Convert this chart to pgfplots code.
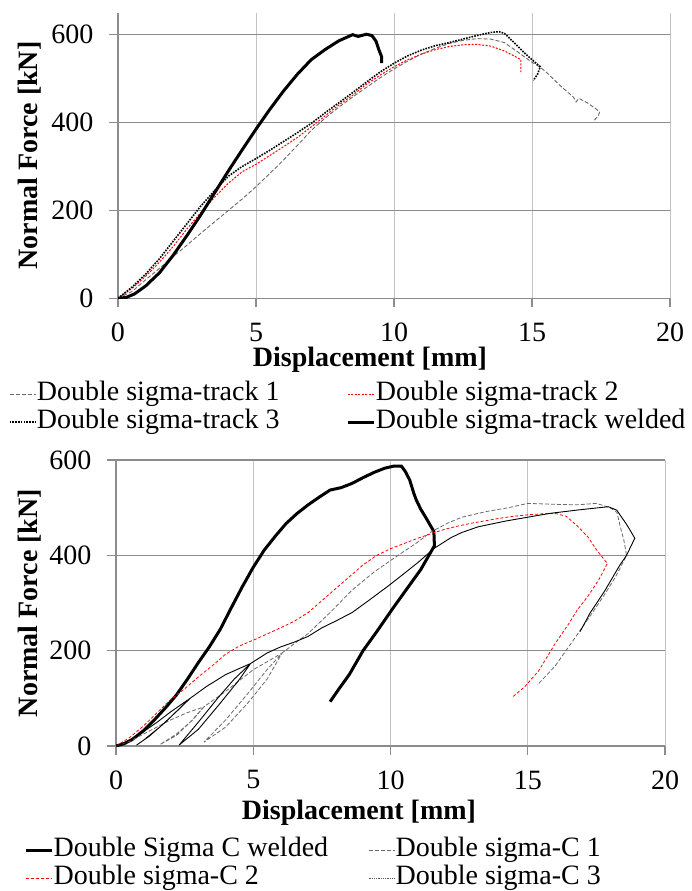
\documentclass[border=0pt]{standalone}
\usepackage{fontspec}
\setmainfont{Liberation Serif}
\usepackage{pgfplots}
\pgfplotsset{compat=1.18}

\definecolor{gridh}{RGB}{140,140,140}
\definecolor{gridv}{RGB}{195,195,195}
\definecolor{axgray}{RGB}{140,140,140}
\definecolor{cgrey}{RGB}{105,105,105}

\newcommand{\bigfont}{\fontsize{28}{30}\selectfont}

\pgfplotsset{
  panel/.style={
    scale only axis,
    xmin=0, xmax=20, ymin=0,
    xtick={0,5,10,15,20},
    ytick={0,200,400,600},
    axis lines*=left,
    axis line style={axgray, line width=1.3pt, -},
    grid=major,
    x grid style={gridv, line width=1pt},
    y grid style={gridh, line width=1.2pt},
    tick style={axgray, line width=1.2pt},
    tick align=outside,
    major tick length=9pt,
    /pgf/number format/assume math mode=true,
    tick label style={font=\bigfont},
    xticklabel style={yshift=-12pt},
    yticklabel style={xshift=-12pt},
    xlabel={Displacement [mm]},
    ylabel={Normal Force [kN]},
    legend columns=2,
    legend image code/.code={\draw[##1] (0pt,0pt) -- (26.5pt,0pt);},
    legend cell align=left,
    legend style={draw=none, fill=none, inner sep=0pt, outer sep=0pt,
      font=\bigfont, row sep=0pt,
      nodes={inner sep=0pt, text height=20pt, text depth=8pt},
      anchor=north west},
  },
}

\begin{document}
\begin{tikzpicture}
\useasboundingbox (0pt,0pt) rectangle (691pt,-891pt);

% ---------------------------------------------------------------- top panel
\begin{axis}[panel,
  at={(118pt,-298.3pt)}, anchor=south west,
  width=552pt, height=285.6pt, ymax=650,
  every axis y label/.style={at={(rel axis cs:0,0.5)}, rotate=90, anchor=center,
    yshift=88pt, font=\bigfont\bfseries},
  every axis x label/.style={at={(rel axis cs:0,0)}, anchor=center,
    xshift=252pt, yshift=-61.7pt, font=\bigfont\bfseries},
  legend style={at={(axis description cs:0,0)}, xshift=-109.2pt, yshift=-81.7pt,
    /tikz/every odd column/.append style={column sep=0pt},
    /tikz/every even column/.append style={column sep=67pt}},
]
\addplot[cgrey, line width=0.9pt, dash pattern=on 4pt off 2pt] coordinates {
(0,0) (0.5,15) (1,42) (1.5,68) (2,95) (2.5,121) (3,148) (3.5,174) (4,200)
(4.5,226) (5,254) (5.5,284) (6,315) (6.5,348) (7,382) (7.5,410) (8,435)
(8.5,458) (9,480) (9.5,502) (10,522) (10.5,540) (11,556) (11.5,569) (12,580)
(12.5,587) (13,591) (13.5,590) (14,582) (14.5,560) (15,537) (15.3,526)
(15.6,510) (16,485) (16.5,458) (16.6,447) (16.7,455) (17,445) (17.3,432)
(17.45,424) (17.4,415) (17.25,405)};
\addlegendentry{Double sigma-track 1}
\addplot[red, line width=1pt, dash pattern=on 2pt off 1.5pt] coordinates {
(0,0) (0.5,22) (1,50) (1.5,82) (2,118) (2.5,158) (3,195) (3.5,230) (4,262)
(4.5,288) (5,305) (5.5,325) (6,345) (6.5,366) (7,390) (7.5,415) (8,440)
(8.5,462) (9,487) (9.5,508) (10,527) (10.5,543) (11,556) (11.5,566) (12,573)
(12.5,577) (13,578) (13.5,574) (14,563) (14.4,550) (14.6,543) (14.6,515)};
\addlegendentry{Double sigma-track 2}
\addplot[black, line width=1.6pt, dash pattern=on 1.6pt off 1.2pt] coordinates {
(0,0) (0.5,25) (1,55) (1.5,90) (2,130) (2.5,170) (3,210) (3.5,245) (4,278)
(4.5,300) (5,318) (5.5,337) (6,357) (6.5,377) (7,398) (7.5,422) (8,445)
(8.5,468) (9,492) (9.5,515) (10,535) (10.5,552) (11,565) (11.5,575) (12,582)
(12.5,590) (13,598) (13.5,605) (13.8,607) (14,603) (14.3,585) (14.7,560)
(15,543) (15.3,527) (15.2,510) (15.05,496)};
\addlegendentry{Double sigma-track 3}
\addplot[black, line width=3pt] coordinates {
(0,0) (0.3,2) (0.6,10) (1,28) (1.5,58) (2,98) (2.5,143) (3,190) (3.5,240)
(4,290) (4.5,338) (5,385) (5.5,430) (6,472) (6.5,510) (7,543) (7.5,566)
(8,586) (8.5,600) (8.7,596) (9,601) (9.2,598) (9.35,585) (9.45,566)
(9.55,550) (9.55,535)};
\addlegendentry{Double sigma-track welded}
\end{axis}

% ------------------------------------------------------------- bottom panel
\begin{axis}[panel,
  at={(116pt,-746pt)}, anchor=south west,
  width=549pt, height=286pt, ymax=600,
  every axis y label/.style={at={(rel axis cs:0,0.5)}, rotate=90, anchor=center,
    yshift=86pt, font=\bigfont\bfseries},
  every axis x label/.style={at={(rel axis cs:0,0)}, anchor=center,
    xshift=243pt, yshift=-67pt, font=\bigfont\bfseries},
  legend style={at={(axis description cs:0,0)}, xshift=-91.8pt, yshift=-90pt,
    /tikz/every odd column/.append style={column sep=0pt},
    /tikz/every even column/.append style={column sep=40pt}},
]
\addplot[black, line width=3pt] coordinates {
(0,0) (0.3,5) (0.6,14) (1,32) (1.4,55) (1.8,80) (2.2,107) (2.6,140) (3,175)
(3.4,208) (3.8,245) (4.2,290) (4.6,334) (5,375) (5.4,411) (5.8,440)
(6.2,467) (6.6,488) (7,506) (7.4,522) (7.8,537) (8.2,542) (8.6,551) (9,563)
(9.4,574) (9.8,583) (10.1,587) (10.4,587) (10.55,575) (10.7,558)
(10.85,530) (10.94,516) (11.1,497) (11.3,478) (11.58,450) (11.6,420)
(11.1,370) (10.6,330) (10.1,290) (9.5,240) (9,200) (8.5,150) (8.1,118)
(7.8,93)};
\addlegendentry{Double Sigma C welded}
\addplot[cgrey, line width=0.8pt, dash pattern=on 4pt off 2pt] coordinates {
(0,0) (0.5,10) (1,25) (1.5,40) (2,55) (2.6,70) (3.2,82) (2.7,50) (2.2,22)
(1.6,3) (2.2,25) (2.8,55) (3.2,82) (4,115) (5,160) (6.05,195) (5.5,140)
(4.8,90) (4,40) (3.2,8) (4,55) (4.8,110) (5.5,160) (6.05,195) (6.5,215)
(7,236) (7.8,280) (8.6,327) (9.4,365) (10.2,397) (11,428) (11.5,450)
(12.1,468) (12.6,480) (13.5,492) (14.3,500) (15,509) (16,507) (16.8,506)
(17.5,509) (18,500) (18.25,490) (18.35,465) (18.5,432) (18.6,400)
(18.2,355) (17.8,318) (17.3,275) (16.66,222) (16,168) (15.35,128)};
\addlegendentry{Double sigma-C 1}
\addplot[red, line width=0.8pt, dash pattern=on 3pt off 2pt] coordinates {
(0,0) (0.5,18) (1,42) (1.5,70) (2,98) (2.5,120) (3,145) (3.5,168) (4,193)
(4.5,210) (5,222) (5.5,235) (6,248) (6.5,262) (7,280) (7.5,305) (8,330)
(8.5,355) (9,380) (9.5,400) (10,414) (10.5,425) (11,436) (11.5,446)
(12,455) (12.5,462) (13,468) (13.5,473) (14,478) (14.5,482) (15,485)
(15.5,487) (16,488) (16.4,482) (16.8,462) (17.2,438) (17.5,412) (17.8,390)
(17.9,383) (17.6,350) (17.2,315) (16.8,285) (16.5,257) (16,215) (15.4,158)
(14.9,125) (14.45,103)};
\addlegendentry{Double sigma-C 2}
\addplot[black, line width=0.9pt, forget plot] coordinates {
(0,0) (0.5,12) (1,30) (1.5,50) (2,72) (2.7,100) (2.2,72) (1.6,40) (1,12)
(0.75,2) (1.2,20) (1.8,50) (2.3,78) (2.7,100) (3.3,125) (4,150) (4.9,173)
(4.5,140) (3.8,90) (3,35) (2.3,2) (3,50) (3.7,100) (4.3,140) (4.9,173)
(5.5,195) (6,208) (6.5,218) (7,230) (7.5,248) (8,262) (8.6,280) (9.2,305)
(9.9,335) (10.5,362) (11,385) (11.6,415) (12.2,437) (12.6,448) (13.2,460)
(14.2,472) (15,480) (15.8,488) (16.8,495) (17.93,502) (18.24,495)
(18.6,465) (18.9,436) (18.6,400) (18.36,380) (17.8,325) (17.27,279)
(17,250) (16.9,240)};
\addlegendimage{black!65, line width=0.9pt, dash pattern=on 1pt off 0.8pt}
\addlegendentry{Double sigma-C 3}
\end{axis}
\end{tikzpicture}
\end{document}
